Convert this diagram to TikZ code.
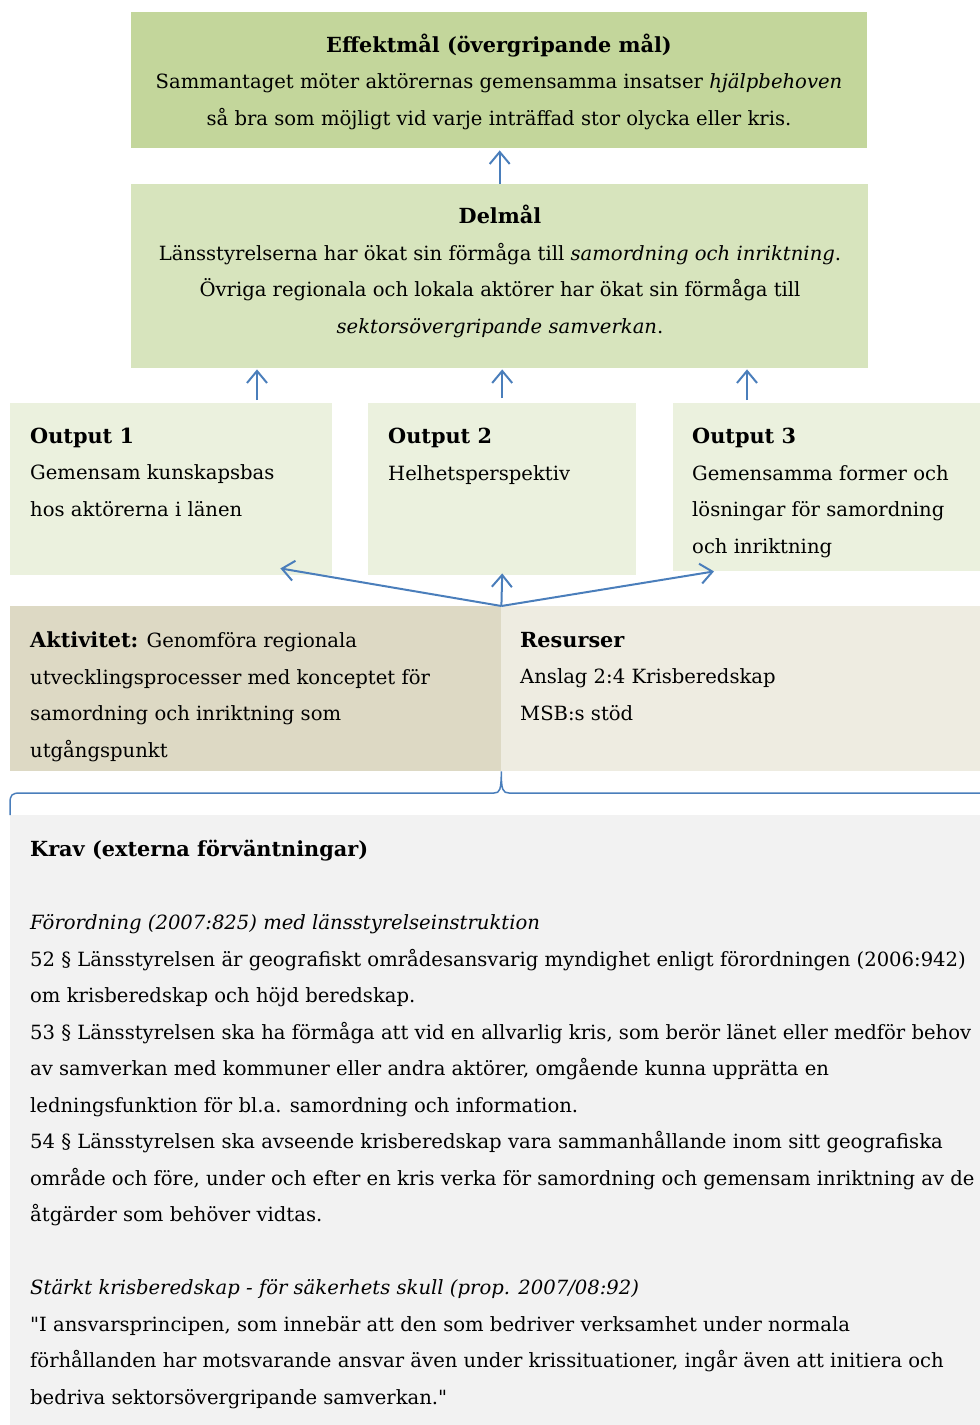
\documentclass[tikz,border=0pt]{standalone}
\usepackage{fontspec}
\setmainfont{DejaVu Serif}
\usetikzlibrary{arrows.meta}
\usetikzlibrary{calc}
\definecolor{effekt}{HTML}{C3D69B}
\definecolor{delmal}{HTML}{D7E4BD}
\definecolor{output}{HTML}{EBF1DE}
\definecolor{aktiv}{HTML}{DDD9C4}
\definecolor{resurs}{HTML}{EEECE1}
\definecolor{krav}{HTML}{F2F2F2}
\definecolor{pil}{HTML}{4A7EBB}
\newcommand{\rubrik}[1] % bold heading, a little larger
{{\fontsize{20.8}{36.5}\selectfont\bfseries #1}}
\tikzset{
	box/.style={inner sep=0pt, anchor=north west},
	txt/.style={inner sep=0pt, align=left, anchor=base west, font=\fontsize{19.6}{36.5}\selectfont},
	arr/.style={draw=pil, line width=2pt, -{Straight Barb[length=12pt,width=20pt]}},
	brace/.style={draw=pil, line width=1.5pt},
}

\begin{document}
\begin{tikzpicture}[x=1pt, y=-1pt]
	% page: 980 x 1425, y grows downwards
	\clip (0,0) rectangle (980,1425);
	% boxes
	\node[box, fill=effekt, minimum width=736pt, minimum height=136pt] (effekt) at (131,12) {};
	\node[box, fill=delmal, minimum width=737pt, minimum height=184pt] (delmal) at (131,184) {};
	\node[box, fill=output, minimum width=322pt, minimum height=172pt] (out1) at (10,403) {};
	\node[box, fill=output, minimum width=268pt, minimum height=172pt] (out2) at (368,403) {};
	\node[box, fill=output, minimum width=307pt, minimum height=168pt] (out3) at (673,403) {};
	\node[box, fill=aktiv, minimum width=491pt, minimum height=165pt] (akt) at (10,606) {};
	\node[box, fill=resurs, minimum width=480pt, minimum height=165pt] (res) at (501,606) {};
	\node[box, fill=krav, minimum width=970pt, minimum height=610pt] (krav) at (10,815) {};
	
	% texts (placed at the baseline of their last line)
	\node[txt, anchor=base, align=center] (effekttxt) at (499,125)
		{\rubrik{Effektmål (övergripande mål)}\\
		Sammantaget möter aktörernas gemensamma insatser \textit{hjälpbehoven}\\
		så bra som möjligt vid varje inträffad stor olycka eller kris.};
	\node[txt, anchor=base, align=center] (delmaltxt) at (500,333)
		{\rubrik{Delmål}\\
		Länsstyrelserna har ökat sin förmåga till \textit{samordning och inriktning}.\\
		Övriga regionala och lokala aktörer har ökat sin förmåga till\\
		\textit{sektorsövergripande samverkan}.};
	\node[txt] (out1txt) at (30,516)
		{\rubrik{Output 1}\\Gemensam kunskapsbas\\hos aktörerna i länen};
	\node[txt] (out2txt) at (388,480)
		{\rubrik{Output 2}\\Helhetsperspektiv};
	\node[txt] (out3txt) at (692,553)
		{\rubrik{Output 3}\\Gemensamma former och\\lösningar för samordning\\och inriktning};
	\node[txt] (akttxt) at (30,757)
		{\rubrik{Aktivitet:} Genomföra regionala\\utvecklingsprocesser med konceptet för\\samordning och inriktning som\\utgångspunkt};
	\node[txt] (restxt) at (520,720)
		{\rubrik{Resurser}\\Anslag 2:4 Krisberedskap\\MSB:s stöd};
	\node[txt] (kravtxt) at (30,1404)
		{\rubrik{Krav (externa förväntningar)}\\[36.5pt]
		\textit{Förordning (2007:825) med länsstyrelseinstruktion}\\
		52 § Länsstyrelsen är geografiskt områdesansvarig myndighet enligt förordningen (2006:942)\\
		om krisberedskap och höjd beredskap.\\
		53 § Länsstyrelsen ska ha förmåga att vid en allvarlig kris, som berör länet eller medför behov\\
		av samverkan med kommuner eller andra aktörer, omgående kunna upprätta en\\
		ledningsfunktion för bl.a. samordning och information.\\
		54 § Länsstyrelsen ska avseende krisberedskap vara sammanhållande inom sitt geografiska\\
		område och före, under och efter en kris verka för samordning och gemensam inriktning av de\\
		åtgärder som behöver vidtas.\\[36.5pt]
		\textit{Stärkt krisberedskap - för säkerhets skull (prop. 2007/08:92)}\\
		\textquotedbl I ansvarsprincipen, som innebär att den som bedriver verksamhet under normala\\
		förhållanden har motsvarande ansvar även under krissituationer, ingår även att initiera och\\
		bedriva sektorsövergripande samverkan.\textquotedbl};
	
	% arrows up
	\draw[arr] (delmal.north) -- ([yshift=-2pt]delmal.north |- effekt.south);
	\draw[arr] ([shift={(247,-3)}]out1.north west) -- ([shift={(247,1)}]out1.north west |- delmal.south);
	\draw[arr] ([shift={(0,-5)}]out2.north) -- ([shift={(0,1)}]out2.north |- delmal.south);
	\draw[arr] ([shift={(74,-3)}]out3.north west) -- ([shift={(74,1)}]out3.north west |- delmal.south);
	\draw[arr] (akt.north east) -- ([shift={(-52,-7)}]out1.south east);
	\draw[arr] (akt.north east) -- ([shift={(0,-2)}]out2.south);
	\draw[arr] (akt.north east) -- ([shift={(41,0)}]out3.south west);
	
	% brace under aktivitet and resurser
	\draw[brace] (krav.north west) -- (10,803) .. controls (10,795) and (12,793) .. (20,793)
		-- (494,793) .. controls (500,793) and (501,790) .. (akt.south east)
		.. controls (501,790) and (503,793) .. (509,793) -- (980,793);
\end{tikzpicture}
\end{document}
